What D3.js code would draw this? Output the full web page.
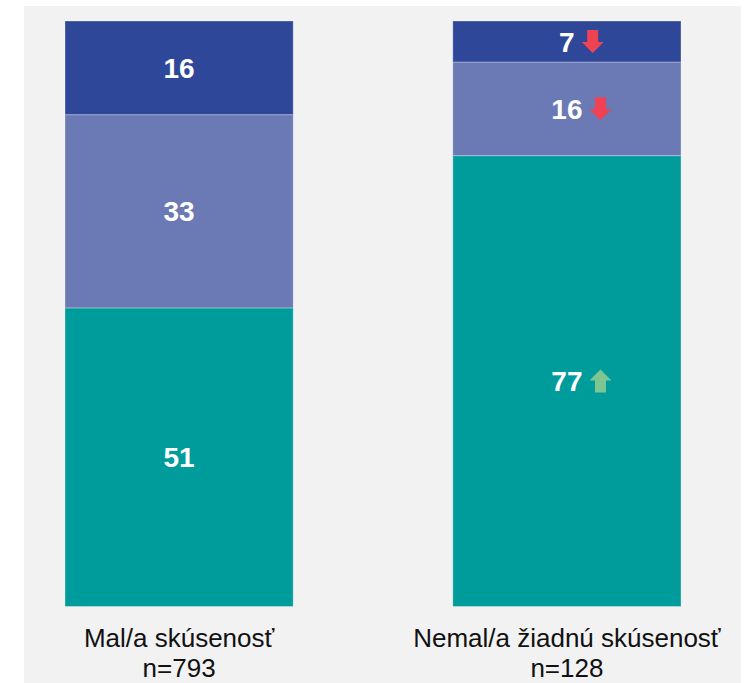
<!DOCTYPE html>
<html>
<head>
<meta charset="utf-8">
<script src="https://cdn.jsdelivr.net/npm/d3@7"></script>
<style>
  body { margin: 0; background: #fff; }
  text { font-family: Arial, "Liberation Sans", sans-serif; }
</style>
</head>
<body>
<div class="chart"></div>
<script>
const w = 746;
const h = 683;

// data
const categories = ["Mal/a skúsenosť", "Nemal/a žiadnú skúsenosť"];
const sampleSizes = ["n=793", "n=128"];
const seriesKeys = ["bottom", "middle", "top"];
const bottomValues = [51, 77];
const middleValues = [33, 16];
const topValues = [16, 7];
// significance arrows per series (null = none)
const bottomArrows = [null, "up"];
const middleArrows = [null, "down"];
const topArrows = [null, "down"];

const colors = { bottom: "#009c9c", middle: "#6b79b5", top: "#2f4799" };

const rows = categories.map((c, i) => ({
  cat: c,
  n: sampleSizes[i],
  bottom: bottomValues[i],
  middle: middleValues[i],
  top: topValues[i],
  arrows: { bottom: bottomArrows[i], middle: middleArrows[i], top: topArrows[i] }
}));

const svg = d3.select(".chart")
  .append("svg")
  .attr("width", w)
  .attr("height", h);

// gray panel
svg.append("rect")
  .attr("x", 24)
  .attr("y", 6)
  .attr("width", 717)
  .attr("height", h - 6)
  .attr("fill", "#f2f2f2");

const x = d3.scaleBand()
  .domain(categories)
  .range([65, 681])
  .paddingInner(0.4116)
  .paddingOuter(0);

const y = d3.scaleLinear()
  .domain([0, 100])
  .range([606.5, 21]);

const stack = d3.stack().keys(seriesKeys);
const series = stack(rows);

const groups = svg.selectAll(".layer")
  .data(series)
  .enter().append("g")
  .attr("class", "layer")
  .attr("fill", d => colors[d.key]);

groups.selectAll("rect")
  .data(d => d)
  .enter().append("rect")
  .attr("x", d => x(d.data.cat))
  .attr("y", d => y(d[1]))
  .attr("width", x.bandwidth())
  .attr("height", d => y(d[0]) - y(d[1]))
  .attr("stroke", "#ffffff")
  .attr("stroke-opacity", 0.3)
  .attr("stroke-width", 1);

// value labels + arrows
series.forEach(s => {
  s.forEach(d => {
    const cx = x(d.data.cat) + x.bandwidth() / 2;
    const cy = (y(d[0]) + y(d[1])) / 2;
    const val = d.data[s.key];
    const t = svg.append("text")
      .attr("x", cx)
      .attr("y", cy)
      .attr("dy", "0.36em")
      .attr("text-anchor", "middle")
      .attr("fill", "#fff")
      .attr("font-weight", "bold")
      .attr("font-size", 28)
      .text(val);
    const dir = d.data.arrows[s.key];
    if (dir) {
      const tw = t.node().getComputedTextLength();
      const ax = cx + tw / 2 + 7;
      const aw = 22, ah = 23, sw = 11, hh = 11;
      let pts;
      if (dir === "down") {
        const top = cy - ah / 2;
        pts = [
          [ax + (aw - sw) / 2, top], [ax + (aw + sw) / 2, top],
          [ax + (aw + sw) / 2, top + ah - hh], [ax + aw, top + ah - hh],
          [ax + aw / 2, top + ah], [ax, top + ah - hh],
          [ax + (aw - sw) / 2, top + ah - hh]
        ];
      } else {
        const bot = cy + ah / 2;
        pts = [
          [ax + (aw - sw) / 2, bot], [ax + (aw + sw) / 2, bot],
          [ax + (aw + sw) / 2, bot - ah + hh], [ax + aw, bot - ah + hh],
          [ax + aw / 2, bot - ah], [ax, bot - ah + hh],
          [ax + (aw - sw) / 2, bot - ah + hh]
        ];
      }
      svg.append("polygon")
        .attr("points", pts.map(p => p.join(",")).join(" "))
        .attr("fill", dir === "down" ? "#ef4354" : "#7dc591");
    }
  });
});

// category labels
const labels = svg.selectAll(".cat")
  .data(rows)
  .enter().append("text")
  .attr("class", "cat")
  .attr("text-anchor", "middle")
  .attr("font-size", 26)
  .attr("fill", "#111");

labels.append("tspan")
  .attr("x", d => x(d.cat) + x.bandwidth() / 2)
  .attr("y", 647)
  .text(d => d.cat);

labels.append("tspan")
  .attr("x", d => x(d.cat) + x.bandwidth() / 2)
  .attr("y", 677)
  .text(d => d.n);
</script>
</body>
</html>
